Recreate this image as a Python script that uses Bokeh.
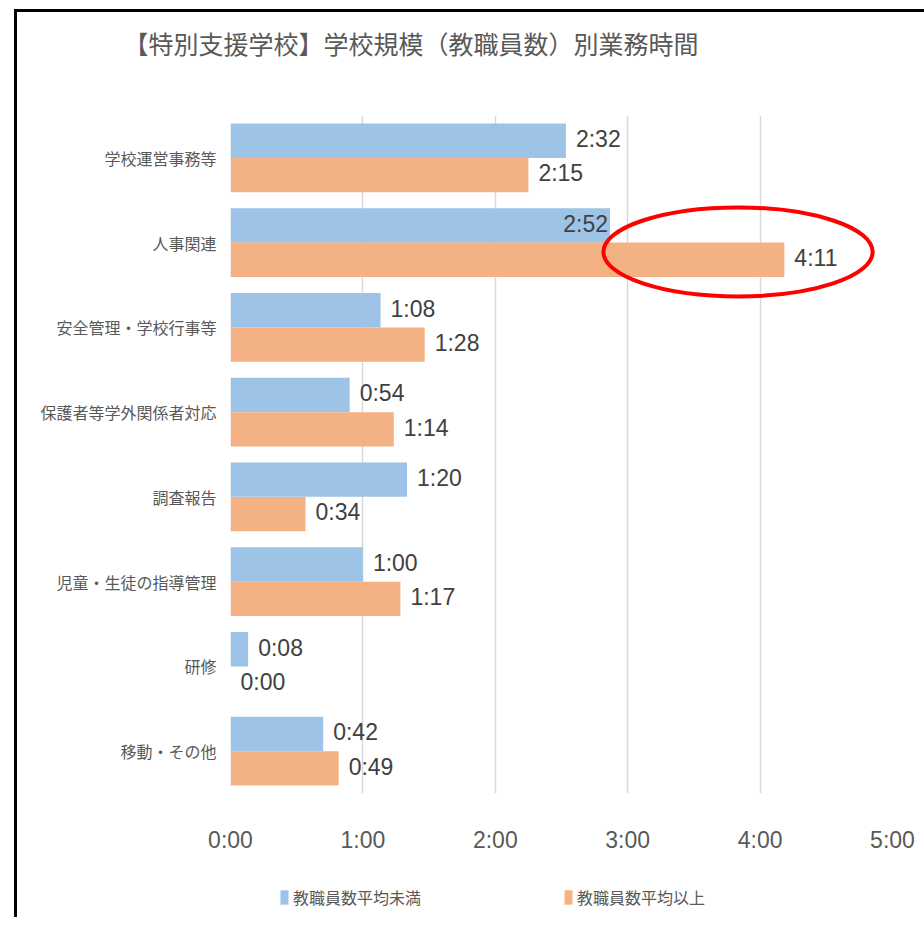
from bokeh.plotting import figure
from bokeh.models import (FactorRange, ColumnDataSource, FixedTicker, Legend,
                          LegendItem, Title, Div, Spacer)
from bokeh.layouts import column, row
from bokeh.transform import dodge
from bokeh.core.properties import value
from bokeh.embed import file_html
from bokeh.resources import INLINE

# ---------------- data ----------------
categories = ["学校運営事務等", "人事関連", "安全管理・学校行事等", "保護者等学外関係者対応",
              "調査報告", "児童・生徒の指導管理", "研修", "移動・その他"]
below_avg_min = [152, 172, 68, 54, 80, 60, 8, 42]     # 教職員数平均未満 (minutes)
above_avg_min = [135, 251, 88, 74, 34, 77, 0, 49]     # 教職員数平均以上 (minutes)
series_names = ["教職員数平均未満", "教職員数平均以上"]
tick_values = [0, 60, 120, 180, 240, 300]
tick_labels = ["0:00", "1:00", "2:00", "3:00", "4:00", "5:00"]
title_text = "【特別支援学校】学校規模（教職員数）別業務時間"
# labels drawn inside the bar end (as in the original)
label_inside_below = [False, True, False, False, False, False, False, False]

# highlight ellipse (annotation around 人事関連 / 平均以上)
hl_category = "人事関連"
hl_center_x = 230
hl_width = 122
hl_height = 1.05
hl_dy = -0.11

# ---------------- style ----------------
BLUE = "#9DC3E6"
ORANGE = "#F4B183"
GRID = "#D9D9D9"
TXT = "#595959"
LBL = "#404040"
CJK = "Noto Sans CJK JP"
NUM = "Liberation Sans"

OX, OY = 17, 12                      # figure origin on the page (inside the black border)
W = 899
H = 855 - OY                         # main chart canvas
H2 = 917 - 855                       # legend strip canvas
FL, FR, FT, FB = 230 - OX, 892 - OX, 115 - OY, 793 - OY   # frame edges on the canvas


def fmt(m):
    return f"{m // 60}:{m % 60:02d}"


p = figure(width=W, height=H, output_backend="svg", toolbar_location=None,
           y_range=FactorRange(factors=list(reversed(categories))),
           x_range=(0, 300),
           min_border_left=FL, min_border_right=W - FR, min_border_top=FT,
           min_border_bottom=H - FB)

src = ColumnDataSource(dict(
    cat=categories,
    below=below_avg_min,
    above=above_avg_min,
))

BH = 0.405
OFF = 0.2025
r_below = p.hbar(y=dodge("cat", OFF, range=p.y_range), right="below", left=0,
                 height=BH, source=src, fill_color=BLUE, line_color=None)
r_above = p.hbar(y=dodge("cat", -OFF, range=p.y_range), right="above", left=0,
                 height=BH, source=src, fill_color=ORANGE, line_color=None)

# data labels
out_b = [i for i, f in enumerate(label_inside_below) if not f]
in_b = [i for i, f in enumerate(label_inside_below) if f]
lab_b_out = ColumnDataSource(dict(cat=[categories[i] for i in out_b],
                                  x=[below_avg_min[i] for i in out_b],
                                  t=[fmt(below_avg_min[i]) for i in out_b]))
lab_b_in = ColumnDataSource(dict(cat=[categories[i] for i in in_b],
                                 x=[below_avg_min[i] for i in in_b],
                                 t=[fmt(below_avg_min[i]) for i in in_b]))
lab_a = ColumnDataSource(dict(cat=categories, x=above_avg_min,
                              t=[fmt(v) for v in above_avg_min]))
common = dict(text="t", text_font=value(NUM), text_font_size="23px",
              text_color=LBL, text_baseline="middle")
p.text(x="x", y=dodge("cat", OFF + 0.02, range=p.y_range), source=lab_b_out,
       x_offset=10, text_align="left", **common)
p.text(x="x", y=dodge("cat", OFF + 0.02, range=p.y_range), source=lab_b_in,
       x_offset=-2, text_align="right", **common)
p.text(x="x", y=dodge("cat", -OFF + 0.02, range=p.y_range), source=lab_a,
       x_offset=10, text_align="left", **common)

# highlight ellipse
hl_src = ColumnDataSource(dict(cat=[hl_category], x=[hl_center_x]))
p.ellipse(x="x", y=dodge("cat", hl_dy, range=p.y_range), width=hl_width,
          height=hl_height, source=hl_src, fill_color=None,
          line_color="#FF0000", line_width=4)

# axes
p.xaxis.ticker = FixedTicker(ticks=tick_values)
p.xaxis.major_label_overrides = {v: t for v, t in zip(tick_values, tick_labels)}
p.xaxis.axis_line_color = None
p.xaxis.major_tick_line_color = None
p.xaxis.minor_tick_line_color = None
p.xaxis.major_label_text_font = NUM
p.xaxis.major_label_text_font_size = "23px"
p.xaxis.major_label_text_color = TXT
p.xaxis.major_label_standoff = 27

p.yaxis.axis_line_color = None
p.yaxis.major_tick_line_color = None
p.yaxis.minor_tick_line_color = None
p.yaxis.major_label_text_font = CJK
p.yaxis.major_label_text_font_size = "16px"
p.yaxis.major_label_text_color = TXT
p.yaxis.major_label_standoff = 8

p.xgrid.grid_line_color = GRID
p.xgrid.grid_line_width = 1.5
p.ygrid.grid_line_color = None
p.outline_line_color = None

# title (a blank spacer title sits between the frame and the real title)
p.title = None
p.add_layout(Title(text=" ", text_font_size="10px", standoff=42), "above")
p.add_layout(Title(text=title_text, text_font=CJK, text_font_size="25px",
                   text_font_style="normal", text_color=TXT, align="left",
                   offset=-107, standoff=0), "above")

# legend strip (separate canvas below the chart; its frame aligns with the chart's)
p2 = figure(width=W, height=H2, output_backend="svg", toolbar_location=None,
            x_axis_type=None, y_axis_type=None, x_range=(0, 1), y_range=(0, 1),
            min_border=0)
p2.outline_line_color = None
p2.grid.visible = False
# swatch renderers: one bar per series, kept outside the strip's visible range
sw_src = ColumnDataSource(dict(y=[-5], b=[below_avg_min[0]], a=[above_avg_min[0]]))
lg_b = p2.hbar(y="y", right="b", left=0, height=0.4, source=sw_src,
               fill_color=BLUE, line_color=None)
lg_a = p2.hbar(y="y", right="a", left=0, height=0.4, source=sw_src,
               fill_color=ORANGE, line_color=None)
legend = Legend(items=[LegendItem(label=series_names[0], renderers=[lg_b]),
                       LegendItem(label=series_names[1], renderers=[lg_a])],
                orientation="horizontal", location=(279 - 230, 8),
                glyph_width=10, glyph_height=18, label_standoff=4, spacing=4,
                label_width=266,
                label_text_font=CJK, label_text_font_size="16px",
                label_text_color=TXT, border_line_color=None,
                background_fill_alpha=0, padding=0, margin=0)
p2.add_layout(legend, "center")

# black border lines (top and left) around the chart area
top_line = Div(width=924 - 14, height=3, margin=0,
               styles={"background-color": "black"})
left_line = Div(width=3, height=H + H2, margin=0,
                styles={"background-color": "black"})
layout = column(
    Spacer(width=10, height=9, margin=0),
    row(Spacer(width=14, height=3, margin=0), top_line, spacing=0),
    row(Spacer(width=14, height=H + H2, margin=0), left_line,
        column(p, p2, spacing=0), spacing=0),
    spacing=0,
)

open("out.html", "w").write(file_html(layout, INLINE))
